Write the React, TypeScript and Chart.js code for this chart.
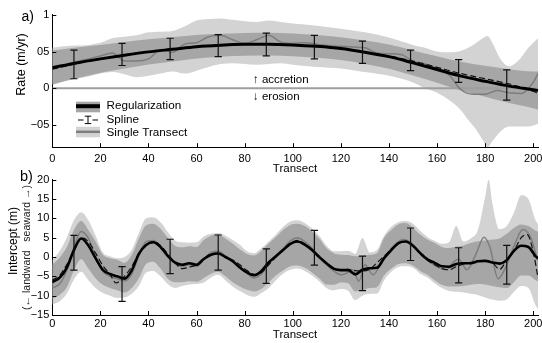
import React, { useEffect, useRef } from 'react';
import { Chart, registerables } from 'chart.js';

Chart.register(...registerables);

const FONT = '"Liberation Sans", Arial, Helvetica, sans-serif';
const LIGHT = '#d3d3d3';
const DARK = '#a6a6a6';
const GRAY = '#7d7d7d';
const ZERO = '#9e9e9e';

// ---------- shared ----------
const X_TICKS = [0, 20, 40, 60, 80, 100, 120, 140, 160, 180, 200];
const ERR_X = [9, 29, 49, 69, 89, 109, 129, 149, 169, 189];

// ---------- panel a : rate ----------
const A_X = [0, 10, 20, 30, 40, 50, 60, 70, 80, 90, 100, 110, 120, 130, 140, 150, 160, 170, 180, 190, 200, 202];
const A_REG = [0.28, 0.345, 0.40, 0.45, 0.495, 0.53, 0.565, 0.585, 0.597, 0.60, 0.59, 0.57, 0.54, 0.49, 0.43, 0.345, 0.255, 0.165, 0.095, 0.03, -0.02, -0.03];
const A_SPLINE = [0.26, 0.335, 0.395, 0.455, 0.495, 0.53, 0.565, 0.59, 0.60, 0.60, 0.59, 0.565, 0.54, 0.495, 0.44, 0.37, 0.285, 0.20, 0.13, 0.06, -0.04, -0.07];
const A_DARK_UP = [0.51, 0.555, 0.59, 0.63, 0.665, 0.695, 0.725, 0.74, 0.752, 0.755, 0.745, 0.725, 0.695, 0.65, 0.595, 0.515, 0.435, 0.36, 0.305, 0.26, 0.23, 0.23];
const A_DARK_LO = [0.05, 0.135, 0.21, 0.27, 0.325, 0.365, 0.405, 0.43, 0.442, 0.445, 0.435, 0.415, 0.385, 0.33, 0.265, 0.175, 0.075, -0.03, -0.115, -0.2, -0.27, -0.29];
const A_LIGHT_X = [0, 5, 10, 15, 20, 25, 30, 35, 40, 45, 50, 55, 60, 65, 70, 75, 80, 85, 90, 95, 100, 110, 120, 130, 140, 150, 155, 160, 165, 170, 173, 176, 179, 181, 183, 186, 190, 194, 198, 202];
const A_LIGHT_UP = [0.55, 0.57, 0.58, 0.59, 0.62, 0.68, 0.70, 0.72, 0.76, 0.77, 0.78, 0.84, 0.92, 0.94, 0.95, 0.93, 0.91, 0.90, 0.92, 0.90, 0.88, 0.85, 0.81, 0.76, 0.69, 0.59, 0.55, 0.50, 0.49, 0.51, 0.55, 0.61, 0.68, 0.71, 0.62, 0.42, 0.30, 0.38, 0.55, 0.68];
const A_LIGHT_LO = [0.06, 0.10, 0.13, 0.16, 0.20, 0.22, 0.19, 0.15, 0.17, 0.20, 0.23, 0.20, 0.24, 0.29, 0.33, 0.34, 0.33, 0.32, 0.33, 0.34, 0.32, 0.29, 0.27, 0.22, 0.17, 0.08, 0.00, -0.06, -0.16, -0.30, -0.43, -0.55, -0.70, -0.80, -0.72, -0.60, -0.52, -0.52, -0.52, -0.48];
const A_SINGLE_X = [0, 5, 10, 15, 20, 25, 30, 35, 40, 45, 50, 55, 60, 65, 70, 75, 80, 85, 90, 95, 100, 105, 110, 115, 120, 125, 130, 135, 140, 145, 150, 155, 160, 165, 170, 175, 180, 185, 190, 195, 200, 202];
const A_SINGLE = [0.28, 0.31, 0.36, 0.40, 0.44, 0.48, 0.37, 0.37, 0.40, 0.52, 0.49, 0.60, 0.62, 0.70, 0.72, 0.66, 0.61, 0.66, 0.72, 0.63, 0.61, 0.62, 0.60, 0.58, 0.57, 0.56, 0.55, 0.48, 0.47, 0.46, 0.37, 0.33, 0.27, 0.18, -0.02, -0.08, -0.08, -0.03, -0.06, -0.07, 0.08, 0.20];
const A_ERR_TOP = [0.52, 0.61, 0.68, 0.73, 0.75, 0.72, 0.64, 0.52, 0.39, 0.25];
const A_ERR_BOT = [0.13, 0.31, 0.39, 0.43, 0.44, 0.40, 0.34, 0.24, 0.08, -0.16];
const A_ZERO_X = [0, 202];
const A_ZERO = [0, 0];
const A_Y_TICKS = [-0.5, 0, 0.5, 1];
const A_Y_TICK_LABELS = ['\u221205', '0', '05', '1'];

// ---------- panel b : intercept ----------
const B_X = [0, 3, 6, 9, 12, 15, 18, 21, 24, 27, 30, 33, 36, 39, 42, 45, 48, 51, 54, 57, 60, 63, 66, 69, 72, 75, 78, 81, 84, 87, 90, 93, 96, 99, 102, 105, 108, 111, 114, 117, 120, 123, 126, 129, 132, 135, 138, 141, 144, 147, 150, 153, 156, 159, 162, 165, 168, 171, 174, 177, 180, 183, 186, 189, 192, 195, 198, 201, 202];
const B_REG = [-6.5, -5.4, -2.8, 1.8, 4.8, 3.0, -0.3, -3.3, -4.4, -5.0, -5.6, -3.5, 0.8, 3.1, 3.8, 2.6, 0.3, -1.4, -2.0, -1.6, -2.0, -0.5, 0.6, 0.9, 0.0, -1.1, -2.7, -4.0, -4.7, -3.6, -1.4, 0.2, 1.8, 3.4, 4.0, 3.2, 1.8, 0.0, -1.6, -3.0, -3.4, -3.4, -4.5, -3.3, -2.9, -2.8, -0.3, 1.8, 3.6, 4.0, 2.9, 1.0, -0.6, -1.5, -2.4, -2.5, -1.8, -1.6, -1.6, -1.1, -1.0, -1.4, -1.7, -0.8, 1.6, 2.9, 2.6, 0.2, -0.4];
const B_DARK_UP = [-2.0, -0.2, 2.5, 7.0, 9.3, 7.0, 4.0, 0.6, -0.3, -0.7, -1.5, 0.5, 4.8, 8.2, 8.6, 7.3, 5.0, 2.9, 2.5, 2.8, 2.6, 4.4, 5.5, 5.8, 4.8, 3.5, 2.0, 0.8, 0.4, 1.6, 3.5, 5.2, 7.0, 8.3, 8.6, 8.0, 6.6, 4.8, 2.3, 1.0, 0.6, 0.5, 0.2, 0.3, 0.6, 1.0, 5.0, 7.0, 8.5, 8.8, 7.6, 5.8, 4.5, 3.6, 2.6, 2.3, 2.7, 3.0, 3.6, 4.1, 4.3, 4.5, 4.8, 6.0, 7.5, 8.4, 8.0, 6.8, 6.6];
const B_DARK_LO = [-10.8, -9.8, -7.8, -3.5, -0.6, -3.0, -5.5, -7.2, -8.0, -8.6, -9.2, -8.0, -5.5, -1.8, -1.2, -3.0, -5.6, -6.5, -6.5, -6.3, -6.4, -5.4, -4.3, -3.8, -5.0, -6.5, -7.6, -8.5, -8.9, -8.2, -6.5, -4.8, -3.5, -2.4, -2.2, -2.8, -4.0, -5.5, -7.1, -7.2, -6.6, -6.8, -8.9, -8.6, -8.0, -7.8, -4.8, -3.0, -1.8, -1.6, -2.2, -3.6, -4.6, -6.0, -7.2, -7.6, -7.6, -7.5, -7.2, -7.0, -7.1, -7.5, -7.8, -8.0, -6.5, -4.8, -4.8, -6.0, -6.3];
const B_LIGHT_X = [0, 3, 6, 9, 12, 15, 18, 21, 24, 27, 30, 33, 36, 39, 42, 45, 48, 51, 54, 57, 60, 63, 66, 69, 72, 75, 78, 81, 84, 87, 90, 93, 96, 99, 102, 105, 108, 111, 114, 117, 120, 123, 126, 129, 132, 135, 138, 141, 144, 147, 150, 153, 156, 159, 162, 165, 168, 171, 174, 177, 180, 181.5, 183, 186, 189, 192, 195, 198, 201, 202];
const B_LIGHT_UP = [-0.8, 1.5, 5.0, 9.5, 11.6, 9.5, 5.5, 1.2, 0.2, -0.3, 0.0, 1.8, 6.2, 10.0, 10.3, 9.0, 6.5, 4.3, 3.8, 3.7, 3.8, 5.3, 6.0, 6.2, 5.5, 4.4, 3.2, 1.5, 1.0, 2.3, 4.0, 5.8, 7.8, 9.2, 9.5, 8.8, 7.4, 5.5, 3.0, 1.5, 1.5, 1.6, 0.8, 4.9, 1.2, 1.8, 5.5, 7.8, 9.0, 9.3, 8.6, 6.8, 5.2, 4.2, 3.4, 3.8, 8.0, 4.0, 4.8, 7.0, 15.5, 20.0, 14.0, 7.2, 8.0, 11.5, 16.0, 15.0, 9.5, 8.5];
const B_LIGHT_LO = [-12.3, -11.5, -9.5, -5.8, -3.8, -6.0, -8.0, -9.3, -10.0, -10.6, -10.5, -9.5, -7.5, -4.0, -3.6, -5.0, -7.0, -8.0, -7.5, -7.1, -7.0, -6.6, -5.3, -4.6, -6.0, -7.6, -8.8, -9.8, -10.3, -9.3, -8.0, -6.0, -4.3, -3.3, -3.0, -3.6, -4.8, -6.3, -8.0, -8.6, -8.3, -8.7, -11.1, -10.0, -9.5, -9.5, -6.0, -3.8, -2.6, -2.4, -2.8, -4.3, -5.3, -6.8, -8.0, -8.8, -9.0, -9.2, -9.5, -9.8, -10.5, -10.8, -11.0, -11.3, -11.0, -9.0, -7.5, -8.0, -12.5, -13.5];
const B_SINGLE_X = [0, 3, 6, 9, 12, 15, 18, 21, 24, 27, 30, 33, 36, 39, 42, 45, 48, 51, 54, 57, 60, 63, 66, 69, 72, 75, 78, 81, 84, 87, 90, 93, 96, 99, 102, 105, 108, 111, 114, 117, 120, 122, 125, 127.5, 130, 133.5, 137, 140, 143, 146, 149, 152, 155, 158, 161, 164, 167, 169, 172.5, 176, 179.6, 182, 185.4, 189, 192, 195.7, 199, 201.4, 202];
const B_SINGLE = [-8.0, -7.0, -3.5, 2.5, 6.6, 4.8, 0.0, -3.7, -5.0, -5.6, -6.2, -4.5, 0.3, 4.0, 4.3, 2.8, 0.5, -1.5, -2.4, -2.0, -2.4, -0.6, 1.2, 1.5, 0.3, -1.0, -2.8, -4.3, -5.4, -4.4, -1.8, 0.4, 2.2, 4.2, 5.0, 4.0, 2.3, 0.0, -2.0, -3.6, -4.6, -4.3, -3.3, -6.3, -2.0, -4.6, -1.1, 1.5, 3.5, 4.5, 3.8, 1.8, -0.2, -1.8, -2.8, -3.3, -1.2, -0.6, -3.3, 0.5, 5.1, 2.5, -5.6, -2.0, 2.8, 7.1, 5.0, 0.2, -0.8];
const B_SPLINE_X = [0, 3, 6, 9, 12, 15, 18, 21, 24, 26.5, 30, 33, 36, 39, 42, 45, 48, 51, 54, 57, 60, 63, 66, 69, 72, 75, 78, 81, 84, 87, 90, 93, 96, 99, 102, 105, 108, 111, 114, 117, 120, 123, 126, 129, 132, 135, 138, 141, 144, 147, 150, 153, 156, 159, 162, 165, 168, 171, 174, 177, 180, 183, 186, 189, 192, 195, 197.5, 200, 202];
const B_SPLINE = [-6.0, -4.8, -2.0, 1.5, 5.0, 4.0, 1.0, -2.2, -4.5, -6.7, -5.0, -2.5, 0.8, 3.0, 4.0, 3.0, 0.8, -1.5, -3.0, -2.6, -2.0, -0.6, 0.8, 1.0, 0.0, -0.8, -2.0, -3.5, -4.5, -4.0, -2.0, 0.0, 2.0, 3.6, 4.3, 3.4, 2.0, 0.2, -1.5, -2.8, -3.3, -3.2, -3.5, -3.6, -3.2, -1.5, 0.2, 2.0, 3.6, 4.0, 3.0, 1.0, -0.8, -2.0, -3.0, -3.3, -2.5, -1.8, -1.4, -1.0, -1.0, -1.4, -3.2, -0.8, 1.5, 5.0, 5.8, 1.4, -5.4];
const B_ERR_TOP = [5.6, -2.5, 4.6, 5.7, 2.1, 6.9, 0.25, 7.5, 2.4, 3.0];
const B_ERR_BOT = [-3.4, -11.5, -4.3, -3.4, -6.8, -2.1, -8.7, -0.9, -6.7, -7.0];
const B_Y_TICKS = [-15, -10, -5, 0, 5, 10, 15, 20];

// ---------- helpers ----------
const W = 542;
const H = 343;

function pts(xs: number[], ys: number[]) {
  return xs.map((x, i) => ({ x, y: ys[i] }));
}
function lineDs(data: any[], color: string, width: number, order: number, dash: number[] = []) {
  return {
    data, borderColor: color, borderWidth: width, borderDash: dash, pointRadius: 0,
    fill: false, cubicInterpolationMode: 'monotone', order, borderJoinStyle: 'round',
  };
}
function bandUp(data: any[], color: string, order: number) {
  return {
    data, borderWidth: 0, borderColor: 'rgba(0,0,0,0)', backgroundColor: color, fill: '+1',
    pointRadius: 0, cubicInterpolationMode: 'monotone', order,
  };
}
function bandLo(data: any[], order: number) {
  return {
    data, borderWidth: 0, borderColor: 'rgba(0,0,0,0)', fill: false,
    pointRadius: 0, cubicInterpolationMode: 'monotone', order,
  };
}
function minusFmt(v: number) {
  return v < 0 ? '\u2212' + Math.abs(v) : String(v);
}

function drawErrorBars(chart: any, xs: number[], tops: number[], bots: number[]) {
  const { ctx, scales: { x, y } } = chart;
  ctx.save();
  ctx.strokeStyle = '#111';
  ctx.lineWidth = 1.2;
  ctx.beginPath();
  xs.forEach((v, i) => {
    const px = x.getPixelForValue(v);
    const pt = y.getPixelForValue(tops[i]);
    const pb = y.getPixelForValue(bots[i]);
    ctx.moveTo(px, pt); ctx.lineTo(px, pb);
    ctx.moveTo(px - 3.6, pt); ctx.lineTo(px + 3.6, pt);
    ctx.moveTo(px - 3.6, pb); ctx.lineTo(px + 3.6, pb);
  });
  ctx.stroke();
  ctx.restore();
}

function drawInwardTicks(chart: any, yTicks: number[]) {
  const { ctx, chartArea: a, scales: { x, y } } = chart;
  ctx.save();
  ctx.strokeStyle = '#000';
  ctx.lineWidth = 1;
  ctx.beginPath();
  X_TICKS.forEach((v) => {
    const p = Math.round(x.getPixelForValue(v)) + 0.5;
    ctx.moveTo(p, a.bottom); ctx.lineTo(p, a.bottom - 4);
  });
  yTicks.forEach((v) => {
    const p = Math.round(y.getPixelForValue(v)) + 0.5;
    ctx.moveTo(a.left, p); ctx.lineTo(a.left + 4, p);
  });
  ctx.stroke();
  ctx.restore();
}

function txt(ctx: any, s: string, x: number, y: number, size: number, align = 'left', color = '#000', rot = 0) {
  ctx.save();
  ctx.font = `${size}px ${FONT}`;
  ctx.fillStyle = color;
  ctx.textAlign = align;
  ctx.textBaseline = 'middle';
  ctx.translate(x, y);
  if (rot) ctx.rotate(rot);
  ctx.fillText(s, 0, 0);
  ctx.restore();
}

function xScale(height: number, pad: number) {
  return {
    type: 'linear', min: 0, max: 202,
    afterBuildTicks: (s: any) => { s.ticks = X_TICKS.map((v) => ({ value: v })); },
    afterFit: (s: any) => { s.height = height; s.paddingLeft = 0; s.paddingRight = 0; },
    grid: { display: false, drawTicks: false },
    border: { display: true, color: '#000', width: 1 },
    ticks: {
      color: '#000', font: { family: FONT, size: 11 }, padding: pad, maxRotation: 0,
      autoSkip: false, callback: (v: number) => String(v),
    },
  };
}
function yScale(min: number, max: number, ticks: number[], labelFn: (v: number) => string) {
  return {
    type: 'linear', min, max,
    afterBuildTicks: (s: any) => { s.ticks = ticks.map((v) => ({ value: v })); },
    afterFit: (s: any) => { s.width = 52.3; s.paddingTop = 0; s.paddingBottom = 0; },
    grid: { display: false, drawTicks: false },
    border: { display: true, color: '#000', width: 1 },
    ticks: { color: '#000', font: { family: FONT, size: 11 }, padding: 3, callback: labelFn },
  };
}

const panelAPlugin = {
  id: 'panelA',
  afterDatasetsDraw(chart: any) {
    drawErrorBars(chart, ERR_X, A_ERR_TOP, A_ERR_BOT);
  },
  afterDraw(chart: any) {
    const ctx = chart.ctx;
    drawInwardTicks(chart, A_Y_TICKS);
    txt(ctx, 'a)', 21.5, 17, 14);
    txt(ctx, 'Rate (m/yr)', 22, 64.5, 12.5, 'center', '#000', -Math.PI / 2);
    txt(ctx, 'Transect', 295, 169, 11.5, 'center');
    txt(ctx, '\u2191 accretion', 253, 80, 11.5);
    txt(ctx, '\u2193 erosion', 253, 97, 11.5);
    // legend
    ctx.save();
    ctx.fillStyle = DARK;
    ctx.fillRect(76, 101.7, 24, 10.6);
    ctx.strokeStyle = '#000';
    ctx.lineWidth = 4;
    ctx.beginPath(); ctx.moveTo(76, 106.2); ctx.lineTo(100, 106.2); ctx.stroke();
    ctx.lineWidth = 1;
    ctx.beginPath();
    ctx.moveTo(78, 120); ctx.lineTo(83.5, 120);
    ctx.moveTo(92.5, 120); ctx.lineTo(98, 120);
    ctx.moveTo(88, 116.2); ctx.lineTo(88, 123.6);
    ctx.moveTo(84.8, 116.2); ctx.lineTo(91.2, 116.2);
    ctx.moveTo(84.8, 123.6); ctx.lineTo(91.2, 123.6);
    ctx.stroke();
    ctx.fillStyle = LIGHT;
    ctx.fillRect(76, 126.7, 24, 10.6);
    ctx.strokeStyle = GRAY;
    ctx.lineWidth = 2.5;
    ctx.beginPath(); ctx.moveTo(76, 131.8); ctx.lineTo(100, 131.8); ctx.stroke();
    ctx.restore();
    txt(ctx, 'Regularization', 106.5, 106, 11.7);
    txt(ctx, 'Spline', 106.5, 120, 11.7);
    txt(ctx, 'Single Transect', 106.5, 132.5, 11.7);
  },
};

const panelBPlugin = {
  id: 'panelB',
  afterDatasetsDraw(chart: any) {
    drawErrorBars(chart, ERR_X, B_ERR_TOP, B_ERR_BOT);
  },
  afterDraw(chart: any) {
    const ctx = chart.ctx;
    drawInwardTicks(chart, B_Y_TICKS);
    txt(ctx, 'b)', 20, 177, 14.5);
    txt(ctx, 'Intercept (m)', 14, 241, 12, 'center', '#000', -Math.PI / 2);
    txt(ctx, '(\u2190 landward   seaward \u2192)', 27, 247.5, 10.5, 'center', '#222', -Math.PI / 2);
    txt(ctx, 'Transect', 295, 335, 11.5, 'center');
  },
};

const A_TOP = 14.7;
const A_BOTTOM = 147.2;
const A_XH = 26;
const B_TOP = 179.7;
const B_BOTTOM = 315;

function makeA(): any {
  return {
    type: 'line',
    data: {
      datasets: [
        bandUp(pts(A_LIGHT_X, A_LIGHT_UP), LIGHT, 10),
        bandLo(pts(A_LIGHT_X, A_LIGHT_LO), 9),
        bandUp(pts(A_X, A_DARK_UP), DARK, 8),
        bandLo(pts(A_X, A_DARK_LO), 7),
        { ...lineDs(pts(A_ZERO_X, A_ZERO), ZERO, 2, 6), cubicInterpolationMode: 'default', tension: 0 },
        lineDs(pts(A_SINGLE_X, A_SINGLE), GRAY, 1.5, 5),
        lineDs(pts(A_X, A_SPLINE), '#111', 1.2, 4, [6, 3]),
        lineDs(pts(A_X, A_REG), '#000', 3, 3),
      ],
    },
    options: {
      animation: false, responsive: false, maintainAspectRatio: false, events: [],
      layout: { padding: { left: 0, right: 4, top: A_TOP, bottom: H - A_BOTTOM - A_XH } },
      plugins: { legend: { display: false }, tooltip: { enabled: false }, title: { display: false } },
      scales: {
        x: xScale(A_XH, 5),
        y: yScale(-0.8, 1, A_Y_TICKS, (v: number) => {
          const i = A_Y_TICKS.indexOf(v);
          return i >= 0 ? A_Y_TICK_LABELS[i] : '';
        }),
      },
    },
    plugins: [panelAPlugin],
  };
}

function makeB(): any {
  return {
    type: 'line',
    data: {
      datasets: [
        bandUp(pts(B_LIGHT_X, B_LIGHT_UP), LIGHT, 10),
        bandLo(pts(B_LIGHT_X, B_LIGHT_LO), 9),
        bandUp(pts(B_X, B_DARK_UP), DARK, 8),
        bandLo(pts(B_X, B_DARK_LO), 7),
        lineDs(pts(B_SINGLE_X, B_SINGLE), GRAY, 1.5, 5),
        lineDs(pts(B_SPLINE_X, B_SPLINE), '#111', 1.2, 4, [6, 3]),
        lineDs(pts(B_X, B_REG), '#000', 2.6, 3),
      ],
    },
    options: {
      animation: false, responsive: false, maintainAspectRatio: false, events: [],
      layout: { padding: { left: 0, right: 4, top: B_TOP, bottom: 0 } },
      plugins: { legend: { display: false }, tooltip: { enabled: false }, title: { display: false } },
      scales: {
        x: xScale(H - B_BOTTOM, 2),
        y: yScale(-15, 20, B_Y_TICKS, (v: number) => minusFmt(v)),
      },
    },
    plugins: [panelBPlugin],
  };
}

function Panel({ make }: { make: () => any }) {
  const ref = useRef<HTMLCanvasElement | null>(null);
  useEffect(() => {
    if (!ref.current) return;
    const chart = new Chart(ref.current, make());
    return () => chart.destroy();
  }, [make]);
  return (
    <canvas
      ref={ref}
      width={W}
      height={H}
      style={{ position: 'absolute', left: 0, top: 0, width: W, height: H }}
    />
  );
}

export default function App() {
  return (
    <div style={{ position: 'absolute', left: 0, top: 0, width: W, height: H, background: '#fff', overflow: 'hidden' }}>
      <Panel make={makeA} />
      <Panel make={makeB} />
    </div>
  );
}
